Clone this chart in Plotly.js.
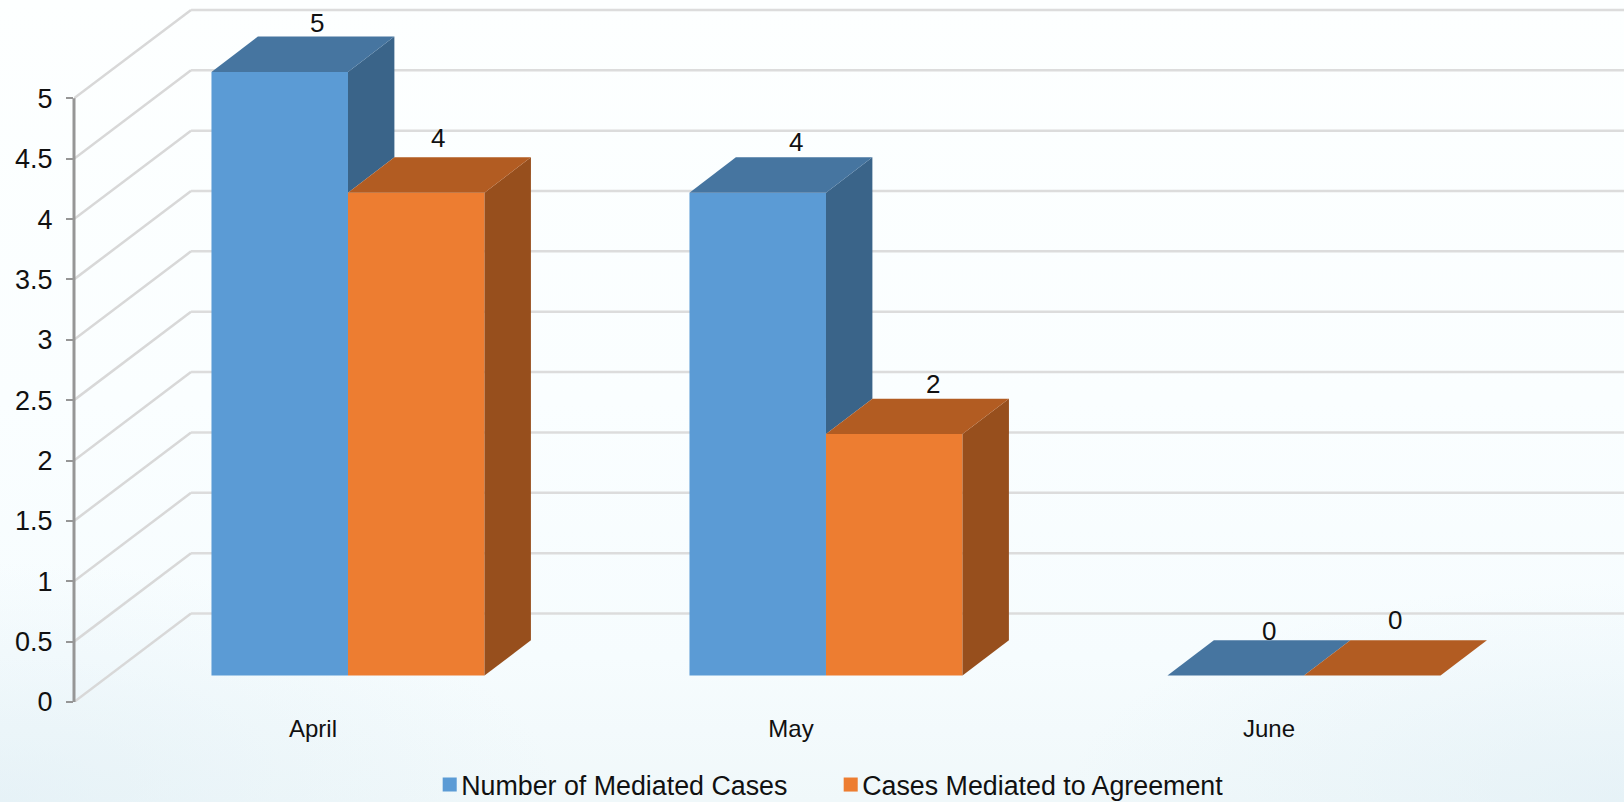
<!DOCTYPE html>
<html>
<head>
<meta charset="utf-8">
<script src="https://cdn.plot.ly/plotly-3.0.1.min.js"></script>
<style>
html,body{margin:0;padding:0;width:1624px;height:802px;overflow:hidden;
background:
 radial-gradient(ellipse 560px 240px at 0% 100%, rgba(222,237,244,.55) 0%, rgba(222,237,244,0) 100%),
 radial-gradient(ellipse 560px 220px at 100% 100%, rgba(222,237,244,.55) 0%, rgba(222,237,244,0) 100%),
 linear-gradient(180deg,#fdffff 0%,#fafeff 50%,#f6fcfe 82%,#f0f8fa 100%);}
#chart{width:1624px;height:802px;}
</style>
</head>
<body>
<div id="chart"></div>
<script>
var categories = ['April', 'May', 'June'];
var mediatedCases = [5, 4, 0];
var agreementCases = [4, 2, 0];
var seriesNames = ['Number of Mediated Cases', 'Cases Mediated to Agreement'];
var yTickVals = [0, 0.5, 1, 1.5, 2, 2.5, 3, 3.5, 4, 4.5, 5];
var yTickText = ['0', '0.5', '1', '1.5', '2', '2.5', '3', '3.5', '4', '4.5', '5'];

// Oblique projection of the depth axis, expressed in axis units
var BAR_W = 0.2856, FRONT_X = 0.0732, FRONT_Y = 0.2188, BACK_X = 0.1703, BACK_Y = 0.5113;
var WALL_X = 0.2448, WALL_Y = 0.7325, X_MIN = -0.5, X_AXIS_END = 2.5, X_MAX = 2.7427, Y_MAX = 5.8146;

var FRONT = ['#5B9BD5', '#ED7D31'], TOP = ['#4675A0', '#B25C22'], SIDE = ['#3A6489', '#974F1D'];
var series = [mediatedCases, agreementCases];
var labelNudgeX = [[-9, -8, -13], [-25, -8, -24]];
var labelNudgeY = [[14, 15, 9], [19, 15, 20]];

var traces = [];
series.forEach(function (vals, s) {
  var xs = categories.map(function (c, i) { return i + FRONT_X + (s - 0.5) * BAR_W; });
  traces.push({
    type: 'bar', name: seriesNames[s], x: xs, y: vals, base: vals.map(function () { return FRONT_Y; }),
    width: vals.map(function () { return BAR_W; }), marker: { color: FRONT[s], line: { width: 0 } },
    hoverinfo: 'skip'
  });
});
function face(px, py, color) {
  traces.push({ type: 'scatter', mode: 'lines', x: px, y: py, fill: 'toself', fillcolor: color,
    line: { width: 0, color: color }, showlegend: false, hoverinfo: 'skip' });
}
series.forEach(function (vals, s) {
  vals.forEach(function (v, i) {
    var l = i + FRONT_X + (s - 1) * BAR_W, r = l + BAR_W;
    var dx = BACK_X - FRONT_X;
    // right-hand face, hidden below the neighbouring bar when there is one
    var low = s === 0 ? series[1][i] : 0;
    if (v > low) {
      face([r, r + dx, r + dx, r, r],
           [v + FRONT_Y, v + BACK_Y, low + BACK_Y, low + FRONT_Y, v + FRONT_Y], SIDE[s]);
    }
  });
});
series.forEach(function (vals, s) {
  vals.forEach(function (v, i) {
    var l = i + FRONT_X + (s - 1) * BAR_W, r = l + BAR_W;
    var dx = BACK_X - FRONT_X;
    face([l, l + dx, r + dx, r, l],
         [v + FRONT_Y, v + BACK_Y, v + BACK_Y, v + FRONT_Y, v + FRONT_Y], TOP[s]);
  });
});

var shapes = [];
yTickVals.forEach(function (v) {
  shapes.push({ type: 'line', layer: 'below', xref: 'x', yref: 'y', x0: X_MIN, y0: v, x1: X_MIN + WALL_X, y1: v + WALL_Y,
    line: { color: '#d8d8d8', width: 2.5 } });
  shapes.push({ type: 'line', layer: 'below', xref: 'x', yref: 'y', x0: X_MIN + WALL_X, y0: v + WALL_Y, x1: X_AXIS_END + WALL_X, y1: v + WALL_Y,
    line: { color: '#dcdcdc', width: 2.5 } });
});
// value axis line, in paper coordinates so that it is not clipped at the plot edge
shapes.push({ type: 'line', layer: 'above', xref: 'paper', yref: 'paper', x0: 0, x1: 0,
  y0: yTickVals[0] / Y_MAX, y1: yTickVals[yTickVals.length - 1] / Y_MAX,
  line: { color: '#969696', width: 3 } });

var annotations = [];
series.forEach(function (vals, s) {
  vals.forEach(function (v, i) {
    var cx = i + BACK_X + (s - 0.5) * BAR_W;
    annotations.push({ xref: 'x', yref: 'y', x: cx, y: v + BACK_Y, text: String(v), showarrow: false,
      xanchor: 'center', yanchor: 'middle', xshift: labelNudgeX[s][i], yshift: labelNudgeY[s][i],
      font: { family: 'Liberation Sans, Arial, sans-serif', size: 26, color: '#111111' } });
  });
});

var layout = {
  width: 1624, height: 802,
  margin: { l: 74, r: 0, t: 0, b: 100.3, pad: 0, autoexpand: false },
  paper_bgcolor: 'rgba(0,0,0,0)', plot_bgcolor: 'rgba(0,0,0,0)',
  barmode: 'overlay', hovermode: false, showlegend: true,
  font: { family: 'Liberation Sans, Arial, sans-serif', color: '#111111' },
  xaxis: { type: 'linear', range: [X_MIN, X_MAX], tickmode: 'array', tickvals: [0, 1, 2], ticktext: categories,
    showgrid: false, zeroline: false, showline: false, ticks: '', tickfont: { size: 24, color: '#111111' }, ticklabelstandoff: 10, fixedrange: true },
  yaxis: { type: 'linear', range: [0, Y_MAX], tickmode: 'array', tickvals: yTickVals, ticktext: yTickText,
    showgrid: false, zeroline: false, showline: false, ticks: 'outside', ticklen: 7, tickwidth: 2, tickcolor: '#969696',
    tickfont: { size: 27, color: '#111111' }, ticklabelstandoff: 8, fixedrange: true },
  legend: { orientation: 'h', x: 0.224, xanchor: 'left', y: -0.0835, yanchor: 'top', bgcolor: 'rgba(0,0,0,0)',
    font: { size: 26.8, color: '#111111' }, entrywidth: 356, entrywidthmode: 'pixels', traceorder: 'normal' },
  shapes: shapes, annotations: annotations
};
Plotly.newPlot('chart', traces, layout, { displayModeBar: false, staticPlot: true }).then(function () {
  // bring the legend swatches next to their texts, at the reference's size
  document.querySelectorAll('.legend .legendpoints path').forEach(function (p) {
    p.setAttribute('transform', 'translate(28.5,0) scale(1.17)');
  });
});
</script>
</body>
</html>
